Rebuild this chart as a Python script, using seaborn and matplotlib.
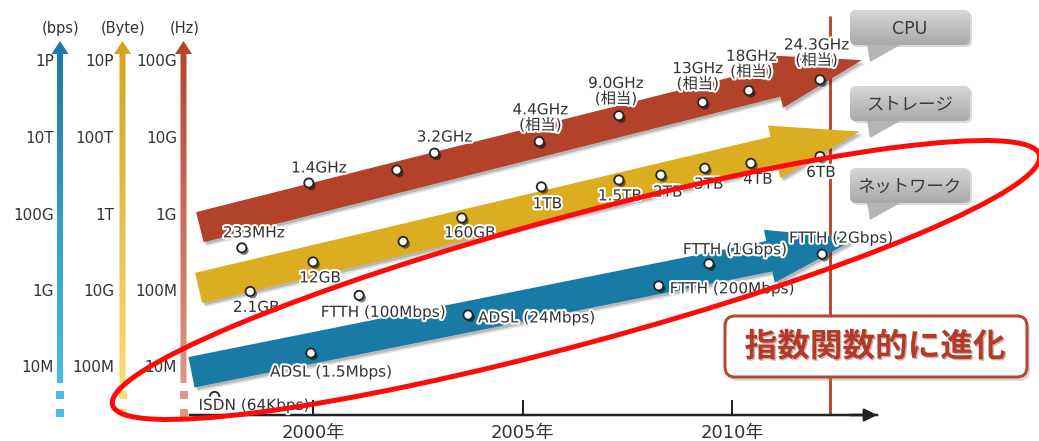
import numpy as np
import seaborn as sns
import matplotlib
matplotlib.use("Agg")
import matplotlib.pyplot as plt
from matplotlib import patches, patheffects as pe
from matplotlib.colors import LinearSegmentedColormap
from matplotlib.transforms import IdentityTransform
from matplotlib.ticker import FixedLocator, FuncFormatter

# ---------------- data ----------------
cpu_year = [1998.3, 1999.9, 2002.0, 2002.9, 2005.4, 2007.3, 2009.3, 2010.4, 2012.1]
cpu_hz = [233e6, 1.4e9, 2.0e9, 3.2e9, 4.4e9, 9.0e9, 13e9, 18e9, 24.3e9]
cpu_text = ["233MHz", "1.4GHz", "", "3.2GHz", "4.4GHz\n(相当)", "9.0GHz\n(相当)",
            "13GHz\n(相当)", "18GHz\n(相当)", "24.3GHz\n(相当)"]

storage_year = [1998.5, 2000.0, 2002.15, 2003.55, 2005.45, 2007.3, 2008.3, 2009.35, 2010.45, 2012.1]
storage_bytes = [2.1e9, 12e9, 40e9, 160e9, 1e12, 1.5e12, 2e12, 3e12, 4e12, 6e12]
storage_text = ["2.1GB", "12GB", "", "160GB", "1TB", "1.5TB", "2TB", "3TB", "4TB", "6TB"]

net_year = [1997.65, 1999.95, 2001.1, 2003.7, 2008.25, 2009.45, 2012.15]
net_bps = [64e3, 1.5e6, 100e6, 24e6, 200e6, 1e9, 2e9]
net_text = ["ISDN (64Kbps)", "ADSL (1.5Mbps)", "FTTH (100Mbps)", "ADSL (24Mbps)",
            "FTTH (200Mbps)", "FTTH (1Gbps)", "FTTH (2Gbps)"]

scale_units = ["(bps)", "(Byte)", "(Hz)"]
scale_bps = ["1P", "10T", "100G", "1G", "10M"]
scale_byte = ["10P", "100T", "1T", "10G", "100M"]
scale_hz = ["100G", "10G", "1G", "100M", "10M"]

year_ticks = [2000, 2005, 2010]
latest_year = 2012.35
series_names = ["CPU", "ストレージ", "ネットワーク"]
headline = "指数関数的に進化"

# ---------------- style / layout ----------------
sns.set_theme(style="white")
plt.rcParams["font.family"] = ["DejaVu Sans", "Noto Sans CJK JP"]

W, H = 1039, 441
PT = 0.72  # points per pixel at 100 dpi
INK = "#333333"
CPU_C, STO_C, NET_C = "#B2422A", "#DBAE22", "#1A7AA6"
LINE_RED = "#BD4B33"

fig = plt.figure(figsize=(W / 100, H / 100), dpi=100, facecolor="white")

# time axis: 190..877 px horizontally, bottom edge at 415 px from the top
rect = [190 / W, 26 / H, 687 / W, 415 / H]
year_lim = (1997.064, 2013.461)

ax = fig.add_axes(rect)
ax.set_xlim(*year_lim)
ax.set_ylim(0, 1)
ax.patch.set_visible(False)
for side in ("left", "top", "right"):
    ax.spines[side].set_visible(False)
ax.spines["bottom"].set_color("#222222")
ax.spines["bottom"].set_linewidth(2.5 * PT)
ax.set_yticks([])
ax.xaxis.set_major_locator(FixedLocator(year_ticks))
ax.xaxis.set_major_formatter(FuncFormatter(lambda v, p: f"{int(v)}年"))
ax.tick_params(axis="x", direction="in", length=15 * PT, width=2 * PT, color="#222222",
               labelsize=13, labelcolor=INK, pad=6.5, bottom=True)
ax.annotate("", xy=(1.0, 0), xytext=(0.96, 0), xycoords="axes fraction",
            arrowprops=dict(arrowstyle="-|>,head_length=0.75,head_width=0.38",
                            color="#222222", lw=2.5 * PT, mutation_scale=10,
                            shrinkA=0, shrinkB=0), annotation_clip=False)
ax.axvline(latest_year, ymin=0, ymax=(415 - 17) / 415, color=LINE_RED, lw=3 * PT, zorder=0)

SHAFT, HEAD_W, HEAD_LEN = 15.5, 27.0, 88.0


def trend_arrow(axis, years, values, span, color):
    """Band arrow along the log-linear trend of one series."""
    slope, icpt = np.polyfit(years, np.log10(values), 1)
    ends = np.array(span)
    p0, p1 = axis.transData.transform(np.column_stack([ends, 10 ** (slope * ends + icpt)]))
    u = (p1 - p0) / np.hypot(*(p1 - p0))
    n = np.array([-u[1], u[0]])
    base = p1 - u * HEAD_LEN
    poly = np.array([p0 + n * SHAFT, base + n * SHAFT, base + n * HEAD_W, p1,
                     base - n * HEAD_W, base - n * SHAFT, p0 - n * SHAFT])
    for off, a in (((3.5, -4), 0.12), ((2, -2.5), 0.18)):
        axis.add_patch(patches.Polygon(poly + off, closed=True, transform=IdentityTransform(),
                                       fc="black", alpha=a, lw=0, zorder=1, clip_on=False))
    axis.add_patch(patches.Polygon(poly, closed=True, transform=IdentityTransform(),
                                   fc=color, lw=0, zorder=2, clip_on=False))


def series_layer(years, values, ylim, span, color, texts, offsets):
    axis = fig.add_axes(rect, sharex=ax)
    axis.set_yscale("log")
    sns.scatterplot(x=years, y=values, ax=axis, s=44, color="white", edgecolor="#262626",
                    linewidth=1.3, zorder=5, legend=False)
    dots = axis.collections[-1]
    dots.set_path_effects([pe.SimplePatchShadow(offset=(1.6, -1.8), shadow_rgbFace="black",
                                                alpha=0.5), pe.Normal()])
    axis.set_xlim(*year_lim)
    axis.set_ylim(*ylim)
    axis.axis("off")
    axis.patch.set_visible(False)
    trend_arrow(axis, years, values, span, color)
    for yr, v, t, off in zip(years, values, texts, offsets):
        if not t:
            continue
        dx, dy, ha = off
        axis.annotate(t, (yr, v), xytext=(dx * PT, -dy * PT), textcoords="offset points",
                      ha=ha, va="center", fontsize=11, color=INK, linespacing=1.0,
                      multialignment="center", zorder=6,
                      path_effects=[pe.withStroke(linewidth=3, foreground="white")])
    return axis


cpu_off = [(12, -15, "center"), (10, -15, "center"), None, (10, -16, "center"),
           (1, -24, "center"), (-3, -24.5, "center"), (-5, -26, "center"),
           (2.5, -26.5, "center"), (-3.5, -27, "center")]
sto_off = [(6, 16, "center"), (7, 16, "center"), None, (8, 15, "center"), (6, 17, "center"),
           (1, 16, "center"), (7, 17, "center"), (4, 16, "center"), (7, 16, "center"),
           (1, 16, "center")]
net_off = [(-16, 9, "left"), (20, 19, "center"), (24, 17, "center"), (10, 3, "left"),
           (11, 3, "left"), (26, -14, "center"), (19, -16, "center")]

series_layer(cpu_year, cpu_hz, (10 ** 6.361, 10 ** 11.343), (1997.3, 2013.1),
             CPU_C, cpu_text, cpu_off)
series_layer(storage_year, storage_bytes, (10 ** 6.160, 10 ** 16.782), (1997.27, 2013.05),
             STO_C, storage_text, sto_off)
series_layer(net_year, net_bps, (10 ** 4.219, 10 ** 17.335), (1997.1, 2012.95),
             NET_C, net_text, net_off)

# ---------------- overlay in pixel units ----------------
deco = fig.add_axes([0, 0, 1, 1])
deco.set_autoscale_on(False)
deco.set_xlim(0, W)
deco.set_ylim(H, 0)
deco.axis("off")
deco.patch.set_visible(False)

# three unit rulers on the left
ruler_x = [60, 122.5, 183.5]
ruler_cols = [("#1B78A8", "#4BBAEA"), ("#D4A11C", "#F7DC72"), ("#B3432B", "#DF9686")]
label_right = [54, 114, 177]
level_y = np.linspace(62, 368, 5)
for x, (c_top, c_bot), unit, labels, xr in zip(ruler_x, ruler_cols, scale_units,
                                               [scale_bps, scale_byte, scale_hz], label_right):
    outline = [(x - 3, 383), (x - 3, 54), (x - 8.5, 54), (x, 41), (x + 8.5, 54),
               (x + 3, 54), (x + 3, 383)]
    clip = patches.Polygon(outline, closed=True, fc="none", lw=0)
    deco.add_patch(clip)
    cmap = LinearSegmentedColormap.from_list("ruler", [c_top, c_bot])
    im = deco.imshow(cmap(np.linspace(0, 1, 256))[:, None, :], extent=(x - 9, x + 9, 383, 41),
                     aspect="auto", origin="upper", zorder=2)
    im.set_clip_path(clip)
    for ys in (391, 409):
        deco.add_patch(patches.Rectangle((x - 4, ys), 8, 8, fc=c_bot, lw=0, zorder=2))
    deco.text(x + 1, 28, unit, ha="center", va="center", fontsize=10.5, color=INK)
    for yl, lab in zip(level_y, labels):
        deco.text(xr, yl, lab, ha="right", va="center", fontsize=11, color=INK)

# speech bubbles naming each series
bubble_top = [10, 86, 168]
bub_cmap = LinearSegmentedColormap.from_list("bubble", ["#D6D6D6", "#A9A9A9"])
for name, top in zip(series_names, bubble_top):
    hgt = 35
    deco.add_patch(patches.FancyBboxPatch((852, top + 2), 120, hgt, fc="black", alpha=0.15, lw=0,
                                          boxstyle="round,pad=0,rounding_size=6", zorder=3))
    tail = patches.Polygon([(867, top + hgt - 1), (902, top + hgt - 1), (870, top + hgt + 17)],
                           closed=True, fc="#B4B4B4", lw=0, zorder=4)
    deco.add_patch(tail)
    box = patches.FancyBboxPatch((850, top), 120, hgt, fc="none", lw=0,
                                 boxstyle="round,pad=0,rounding_size=6", zorder=4)
    deco.add_patch(box)
    bim = deco.imshow(bub_cmap(np.linspace(0, 1, 64))[:, None, :],
                      extent=(850, 970, top + hgt, top), aspect="auto", origin="upper", zorder=4)
    bim.set_clip_path(box)
    deco.text(910, top + hgt / 2 + 1, name, ha="center", va="center", fontsize=12.5,
              color="#3A3A3A", zorder=5)

# headline box
deco.add_patch(patches.FancyBboxPatch((728, 320), 302, 61, fc="#999999", alpha=0.35, lw=0,
                                      boxstyle="round,pad=0,rounding_size=10", zorder=6))
deco.add_patch(patches.FancyBboxPatch((725, 316), 302, 61, fc="white", ec="#B5472F",
                                      lw=3 * PT, boxstyle="round,pad=0,rounding_size=10",
                                      zorder=7))
deco.text(875, 347, headline, ha="center", va="center", fontsize=23.5, fontweight="bold",
          color="#B23A26", zorder=8, family=["Noto Sans CJK JP", "DejaVu Sans"],
          path_effects=[pe.withSimplePatchShadow(offset=(1, -1), shadow_rgbFace="#6e2414",
                                                 alpha=0.35)])

# hand-drawn style emphasis ring around the network trend
deco.add_patch(patches.Ellipse((576, 280), 960, 128, angle=-15.1, fc="none", ec="#FF0A0A",
                               lw=5 * PT, zorder=10))

fig.savefig("out.png", dpi=100, facecolor="white")
